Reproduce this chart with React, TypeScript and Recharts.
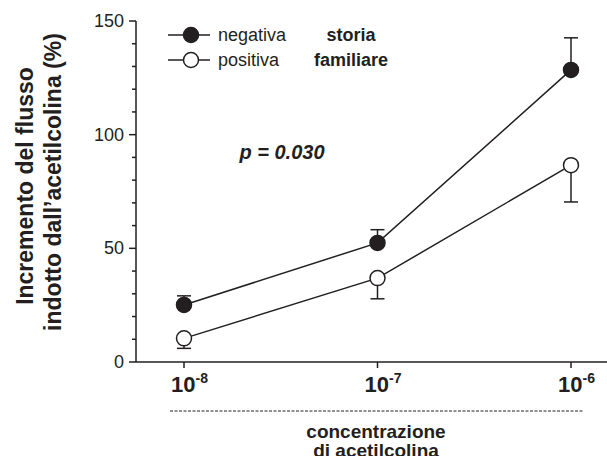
import React from 'react';
import { LineChart, Line, XAxis, YAxis, ErrorBar } from 'recharts';

const concentrations = ['-8', '-7', '-6'];
const seriesNames = ['negativa', 'positiva'];
const negativa = [25.1, 52.4, 128.5];
const negativaErr = [4, 5.8, 14.1];
const positiva = [10.4, 36.9, 86.6];
const positivaErr = [4.4, 9.1, 16.2];
const yTicks = [0, 10, 20, 30, 40, 50, 60, 70, 80, 90, 100, 110, 120, 130, 140, 150];
const legendNotes = ['storia', 'familiare'];

const data = concentrations.map((c, i) => ({
  conc: c,
  negativa: negativa[i],
  negErr: [0, negativaErr[i]],
  positiva: positiva[i],
  posErr: [positivaErr[i], 0],
}));

const FONT = '"Liberation Sans", Arial, Helvetica, sans-serif';
const INK = '#231f20';

const YTick = (props: any) => {
  const { x, y, payload } = props;
  const major = payload.value % 50 === 0;
  return (
    <g>
      <line x1={x - (major ? 7 : 4)} x2={x} y1={y} y2={y} stroke={INK} strokeWidth={1.5} />
      {major && (
        <text x={x - 12} y={y} dy={6} textAnchor="end" fontSize={18} fontFamily={FONT} fill={INK}>
          {payload.value}
        </text>
      )}
    </g>
  );
};

const XTick = (props: any) => {
  const { x, payload } = props;
  return (
    <text x={x - 13} y={392} fontSize={22} fontWeight="bold" fontFamily={FONT} fill={INK}>
      10
      <tspan dy={-9} fontSize={14}>{payload.value}</tspan>
    </text>
  );
};

export default function App() {
  return (
    <div style={{ position: 'absolute', left: 0, top: 0, width: 607, height: 456, background: '#fff', overflow: 'hidden' }}>
      <LineChart width={607} height={456} data={data} margin={{ top: 21, right: 0, bottom: 0, left: 76 }}>
        <XAxis
          dataKey="conc"
          height={94}
          padding={{ left: 48, right: 36 }}
          tick={<XTick />}
          tickSize={6}
          tickLine={{ stroke: INK, strokeWidth: 1.5 }}
          axisLine={{ stroke: INK, strokeWidth: 1.5 }}
          interval={0}
        />
        <YAxis
          width={60}
          domain={[0, 150]}
          ticks={yTicks}
          interval={0}
          tickSize={0}
          tickMargin={0}
          tick={<YTick />}
          tickLine={false}
          axisLine={{ stroke: INK, strokeWidth: 1.5 }}
        />
        <Line
          dataKey="negativa"
          name={seriesNames[0]}
          stroke={INK}
          strokeWidth={1.5}
          isAnimationActive={false}
          dot={{ r: 7.5, fill: INK, stroke: INK, strokeWidth: 1.5 }}
          activeDot={false}
        >
          <ErrorBar dataKey="negErr" width={7} stroke={INK} strokeWidth={1.5} direction="y" isAnimationActive={false} />
        </Line>
        <Line
          dataKey="positiva"
          name={seriesNames[1]}
          stroke={INK}
          strokeWidth={1.5}
          isAnimationActive={false}
          dot={{ r: 7.5, fill: '#fff', stroke: INK, strokeWidth: 1.5 }}
          activeDot={false}
        >
          <ErrorBar dataKey="posErr" width={7} stroke={INK} strokeWidth={1.5} direction="y" isAnimationActive={false} />
        </Line>
      </LineChart>
      <svg width={607} height={456} style={{ position: 'absolute', left: 0, top: 0, pointerEvents: 'none' }}>
        {seriesNames.map((name, i) => {
          const cy = 35 + i * 25;
          return (
            <g key={name}>
              <line x1={168} x2={210} y1={cy} y2={cy} stroke={INK} strokeWidth={1.5} />
              <circle cx={191} cy={cy} r={7.5} fill={i === 0 ? INK : '#fff'} stroke={INK} strokeWidth={1.5} />
              <text x={218} y={cy + 6} fontSize={18} fontFamily={FONT} fill={INK}>{name}</text>
              <text x={351} y={cy + 6} textAnchor="middle" fontSize={18} fontWeight="bold" fontFamily={FONT} fill={INK}>
                {legendNotes[i]}
              </text>
            </g>
          );
        })}
        <text x={282} y={159} textAnchor="middle" fontSize={20} fontWeight="bold" fontStyle="italic" fontFamily={FONT} fill={INK}>
          p = 0.030
        </text>
        <g transform="translate(33,186) rotate(-90)">
          <text x={0} y={0} textAnchor="middle" fontSize={23} fontWeight="bold" fontFamily={FONT} fill={INK}>
            Incremento del flusso
          </text>
        </g>
        <g transform="translate(61,182) rotate(-90)">
          <text x={0} y={0} textAnchor="middle" fontSize={23} fontWeight="bold" fontFamily={FONT} fill={INK}>
            indotto dall’acetilcolina (%)
          </text>
        </g>
        <line x1={170} x2={584} y1={411} y2={411} stroke={INK} strokeWidth={1} strokeDasharray="3 1.5" />
        <text x={376} y={438} textAnchor="middle" fontSize={19} fontWeight="bold" fontFamily={FONT} fill={INK}>
          concentrazione
        </text>
        <text x={376} y={457} textAnchor="middle" fontSize={19} fontWeight="bold" fontFamily={FONT} fill={INK}>
          di acetilcolina
        </text>
      </svg>
    </div>
  );
}
